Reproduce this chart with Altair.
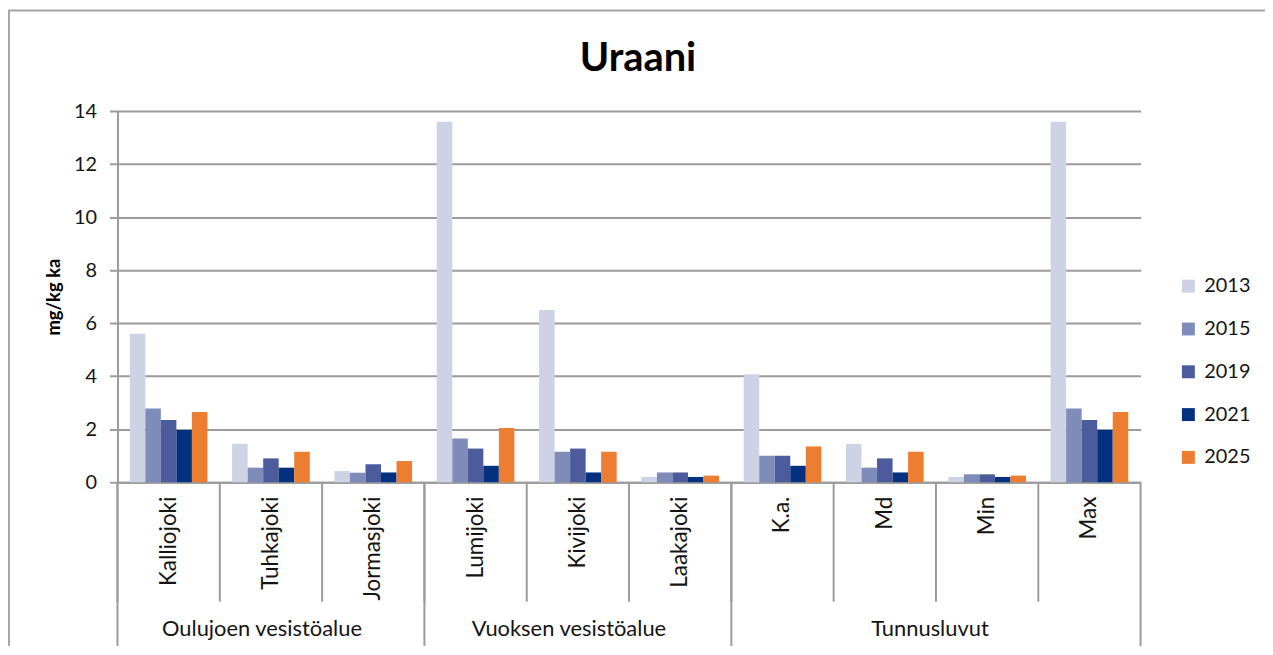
import altair as alt
import pandas as pd

categories = ["Kalliojoki", "Tuhkajoki", "Jormasjoki", "Lumijoki", "Kivijoki",
              "Laakajoki", "K.a.", "Md", "Min", "Max"]
years = ["2013", "2015", "2019", "2021", "2025"]
v2013 = [5.6, 1.45, 0.42, 13.6, 6.5, 0.2, 4.07, 1.45, 0.2, 13.6]
v2015 = [2.78, 0.55, 0.36, 1.65, 1.15, 0.37, 1.0, 0.55, 0.3, 2.78]
v2019 = [2.35, 0.9, 0.68, 1.27, 1.27, 0.37, 1.0, 0.9, 0.3, 2.35]
v2021 = [1.97, 0.55, 0.37, 0.62, 0.37, 0.2, 0.62, 0.37, 0.2, 1.97]
v2025 = [2.65, 1.15, 0.8, 2.05, 1.15, 0.25, 1.35, 1.15, 0.25, 2.65]
colors = ["#cdd3e4", "#7f8cba", "#4b5b9b", "#04317f", "#ed7d31"]

chart_title = "Uraani"
group_names = ["Oulujoen vesistöalue", "Vuoksen vesistöalue", "Tunnusluvut"]
group_starts = ["Kalliojoki", "Lumijoki", "K.a."]

rows = []
for yr, vals in zip(years, [v2013, v2015, v2019, v2021, v2025]):
    for c, v in zip(categories, vals):
        rows.append({"cat": c, "year": yr, "value": v})
df = pd.DataFrame(rows)

W, H = 1028, 373
GRAY = "#9b9b9b"
FONT = "Lato"
TXT = "#141414"

xscale = alt.Scale(domain=categories, paddingInner=0, paddingOuter=0)

bars = alt.Chart(df).mark_bar().encode(
    x=alt.X("cat:N", scale=xscale, title=None,
            axis=alt.Axis(labelAngle=-90, ticks=False, labelFont=FONT, labelFontSize=22.5,
                          labelPadding=14, labelColor=TXT, domainColor=GRAY,
                          domainWidth=2, grid=False)),
    xOffset=alt.XOffset("year:N", scale=alt.Scale(domain=years, paddingInner=0, paddingOuter=0.795)),
    y=alt.Y("value:Q", scale=alt.Scale(domain=[0, 14]), title="mg/kg ka",
            axis=alt.Axis(values=[0, 2, 4, 6, 8, 10, 12, 14], tickSize=8, tickColor=GRAY,
                          tickWidth=2, domainColor=GRAY, domainWidth=2, gridColor=GRAY,
                          gridWidth=2, labelFont=FONT, labelFontSize=20, labelColor=TXT,
                          labelPadding=13, titleFont=FONT, titleFontSize=18.5,
                          titleFontWeight="bold", titleColor="#000000", titlePadding=10)),
    color=alt.Color("year:N", scale=alt.Scale(domain=years, range=colors),
                    legend=alt.Legend(orient="none", legendX=1066, legendY=166, title=None,
                                      symbolType="square", symbolSize=169, symbolStrokeWidth=0,
                                      symbolOpacity=1, labelFont=FONT, labelFontSize=20,
                                      labelOffset=6, rowPadding=23, padding=0,
                                      labelColor=TXT)),
)

cat_df = pd.DataFrame({"cat": categories})
inner_rules = alt.Chart(cat_df).mark_rule(color=GRAY, strokeWidth=2).encode(
    x=alt.X("cat:N", scale=xscale, bandPosition=0, title=None),
    y=alt.value(H), y2=alt.value(H + 120),
)

gs_df = pd.DataFrame({"cat": group_starts})
group_rules = alt.Chart(gs_df).mark_rule(color=GRAY, strokeWidth=2).encode(
    x=alt.X("cat:N", scale=xscale, bandPosition=0, title=None),
    y=alt.value(H), y2=alt.value(H + 220),
)
end_df = pd.DataFrame({"cat": [categories[-1]]})
group_rule_end = alt.Chart(end_df).mark_rule(color=GRAY, strokeWidth=2).encode(
    x=alt.X("cat:N", scale=xscale, bandPosition=1, title=None),
    y=alt.value(H), y2=alt.value(H + 220),
)

odd_df = pd.DataFrame({"cat": ["Tuhkajoki", "Kivijoki"], "label": group_names[:2]})
group_text_a = alt.Chart(odd_df).mark_text(font=FONT, fontSize=22, color=TXT,
                                           baseline="middle", align="center", dx=-9).encode(
    x=alt.X("cat:N", scale=xscale, bandPosition=0.5, title=None),
    y=alt.value(520), text="label:N",
)
even_df = pd.DataFrame({"cat": ["Md"], "label": [group_names[2]]})
group_text_b = alt.Chart(even_df).mark_text(font=FONT, fontSize=22, color=TXT,
                                            baseline="middle", align="center", dx=-6).encode(
    x=alt.X("cat:N", scale=xscale, bandPosition=1, title=None),
    y=alt.value(520), text="label:N",
)

one = pd.DataFrame({"t": [chart_title]})
title_mark = alt.Chart(one).mark_text(font=FONT, fontSize=40, fontWeight="bold",
                                      color="#000000", baseline="alphabetic",
                                      align="center").encode(
    x=alt.value(W / 2 + 9), y=alt.value(-40), text="t:N",
)
frame_top = alt.Chart(one).mark_rule(color="#a6a6a6", strokeWidth=2).encode(
    x=alt.value(-110), x2=alt.value(W + 140), y=alt.value(-101),
)
frame_left = alt.Chart(one).mark_rule(color="#a6a6a6", strokeWidth=2).encode(
    x=alt.value(-109), y=alt.value(-101), y2=alt.value(H + 220),
)

chart = alt.layer(
    bars, inner_rules, group_rules, group_rule_end, group_text_a, group_text_b,
    title_mark, frame_top, frame_left,
).properties(
    width=W, height=H,
    padding={"left": 110, "top": 102, "right": 125, "bottom": 163},
    autosize=alt.AutoSizeParams(type="none"),
).configure_view(stroke=None)

chart.save("out.html", embed_options={"renderer": "svg", "actions": False})
